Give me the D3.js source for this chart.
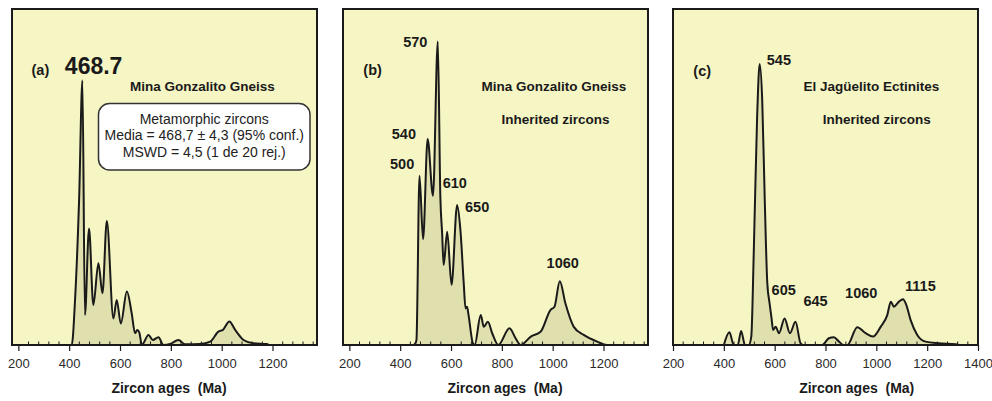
<!DOCTYPE html>
<html>
<head>
<meta charset="utf-8">
<script src="https://cdn.jsdelivr.net/npm/d3@7/dist/d3.min.js"></script>
<style>
  html, body { margin: 0; padding: 0; background: #ffffff; }
  svg { display: block; font-family: "Liberation Sans", Arial, sans-serif; }
</style>
</head>
<body>
<svg id="chart" width="992" height="401"></svg>
<script>
// ---------------- DATA ----------------
// Panel (a) Mina Gonzalito Gneiss – metamorphic zircons
const agesA   = [400, 410, 423, 439, 452, 462, 478, 495, 515, 531, 548, 574, 587, 603, 627, 646, 659, 668, 676, 686, 712, 729, 751, 771, 797, 830, 856, 915, 955, 987, 1005, 1030, 1053, 1086, 1125, 1178, 1184];
const valuesA = [0, 0, 13.4, 43.2, 78.7, 8.9, 34.7, 11.9, 24.3, 15.4, 36.9, 7.9, 13.4, 6.4, 15.9, 9.4, 3.5, 4.5, 3.7, 0, 3.0, 1.5, 2.3, 0, 0.3, 1.5, 0.2, 0.3, 1.0, 4.0, 4.5, 7.0, 4.5, 1.5, 0.5, 0.3, 0];

// Panel (b) Mina Gonzalito Gneiss – inherited zircons
const agesB   = [440, 451, 460, 464, 476, 490, 508, 529, 548, 558, 565, 571, 585, 602, 624, 637, 650, 657, 663, 669, 686, 693, 717, 729, 745, 762, 786, 830, 854, 874, 914, 953, 991, 1007, 1028, 1050, 1083, 1122, 1175, 1214, 1250];
const valuesB = [0, 0, 0.5, 1.5, 50.4, 31.5, 61.3, 44.4, 90.3, 44.1, 33.2, 23.8, 33.7, 17.9, 41.7, 34.2, 18.4, 10.9, 11.4, 8.9, 0.5, 0, 8.9, 5.4, 6.9, 3.5, 0, 5.0, 2.0, 0, 2.5, 4.0, 10.4, 11.4, 19.0, 12.4, 5.4, 3.0, 1.0, 0, 0];

// Panel (c) El Jagüelito Ectinites – inherited zircons
const agesC   = [400, 422, 439, 455, 468, 483, 498, 508, 518, 531, 541, 551, 561, 571, 580, 587, 594, 604, 617, 639, 660, 682, 702, 713, 787, 813, 833, 853, 872, 886, 925, 958, 987, 1017, 1043, 1057, 1069, 1089, 1105, 1118, 1135, 1161, 1194, 1246, 1312, 1325];
const valuesC = [0, 3.8, 0, 0, 4.2, 0, 0, 2.5, 28.3, 67.9, 83.6, 72.9, 43.2, 18.4, 12.4, 8.4, 4.5, 5.4, 3.5, 7.9, 3.5, 6.9, 0.5, 0, 0, 2.0, 2.3, 1.0, 0, 0, 5.3, 3.5, 2.5, 5.4, 8.9, 12.9, 11.4, 12.9, 13.6, 11.9, 7.4, 3.0, 1.0, 0.5, 0.2, 0];

// Tick labels
const tickLabelsAB = [200, 400, 600, 800, 1000, 1200];
const tickLabelsC  = [200, 400, 600, 800, 1000, 1200, 1400];

// Peak annotations: [text, age, value]
const peaksA = [["468.7", 383, 80.7]];
const peaksB = [["570", 412, 88.8], ["540", 367, 61.2], ["500", 360, 52.3], ["610", 567, 46.6], ["650", 655, 39.7], ["1060", 976, 22.8]];
const peaksC = [["545", 569, 83.3], ["605", 588, 14.9], ["645", 713, 11.6], ["1060", 877, 13.9], ["1115", 1113, 16.2]];

const boxLinesA = ["Metamorphic zircons", "Media = 468,7 \u00b1 4,3 (95% conf.)", "MSWD = 4,5 (1 de 20 rej.)"];
const xTitle = "Zircon ages\u00a0\u00a0(Ma)";

// ---------------- LAYOUT ----------------
const svg = d3.select("#chart");
const plotTop = 9, plotBottom = 345;
const bg = "#f6f6c4", areaFill = "#e0e0ae", ink = "#1a1a1a";

const panels = [
  { id: "a", left: 12,  right: 317, domain: [175, 1375], ages: agesA, vals: valuesA, ticks: tickLabelsAB, peaks: peaksA,
    tag: "(a)", tagDx: 19.5, tagY: 75,
    titles: [["Mina Gonzalito Gneiss", 190.5, 90.7]], axDx: 157 },
  { id: "b", left: 343, right: 648, domain: [175, 1375], ages: agesB, vals: valuesB, ticks: tickLabelsAB, peaks: peaksB,
    tag: "(b)", tagDx: 20.3, tagY: 75,
    titles: [["Mina Gonzalito Gneiss", 211, 90.7], ["Inherited zircons", 212.5, 123.5]], axDx: 162 },
  { id: "c", left: 673, right: 978, domain: [200, 1400], ages: agesC, vals: valuesC, ticks: tickLabelsC, peaks: peaksC,
    tag: "(c)", tagDx: 20.3, tagY: 76,
    titles: [["El Jag\u00fcelito Ectinites", 198.3, 90.7], ["Inherited zircons", 203.7, 124]], axDx: 183.7 }
];

const y = d3.scaleLinear().domain([0, 100]).range([plotBottom, plotTop]);

panels.forEach(p => {
  const x = d3.scaleLinear().domain(p.domain).range([p.left, p.right]);
  const g = svg.append("g");
  const data = p.ages.map((a, i) => ({ a, v: p.vals[i] }));

  g.append("rect").attr("x", p.left).attr("y", plotTop)
    .attr("width", p.right - p.left).attr("height", plotBottom - plotTop)
    .attr("fill", bg);

  const area = d3.area().x(d => x(d.a)).y0(y(0)).y1(d => y(d.v)).curve(d3.curveMonotoneX);
  const line = d3.line().x(d => x(d.a)).y(d => y(d.v)).curve(d3.curveMonotoneX);

  g.append("path").datum(data).attr("d", area).attr("fill", areaFill);
  g.append("path").datum(data).attr("d", line).attr("fill", "none")
    .attr("stroke", ink).attr("stroke-width", 2).attr("stroke-linejoin", "round");

  const minor = d3.range(Math.ceil(p.domain[0] / 40) * 40, p.domain[1], 40).filter(t => t % 200 !== 0);
  g.append("g").selectAll("line").data(minor).join("line")
    .attr("x1", d => x(d)).attr("x2", d => x(d))
    .attr("y1", plotBottom - 3.5).attr("y2", plotBottom)
    .attr("stroke", ink).attr("stroke-width", 1);

  const axis = d3.axisBottom(x).tickValues(p.ticks).tickSize(6).tickSizeOuter(0).tickFormat(d3.format("d"));
  const ax = g.append("g").attr("transform", `translate(0,${plotBottom})`).call(axis);
  ax.select(".domain").remove();
  ax.selectAll(".tick line").attr("stroke", ink).attr("stroke-width", 1.2);
  ax.selectAll(".tick text").attr("fill", "#2a2a2a").attr("font-size", 13)
    .attr("font-family", "'Liberation Sans', Arial, sans-serif").attr("dy", "0").attr("y", 23);

  g.append("rect").attr("x", p.left).attr("y", plotTop)
    .attr("width", p.right - p.left).attr("height", plotBottom - plotTop)
    .attr("fill", "none").attr("stroke", ink).attr("stroke-width", 2);

  g.append("text").attr("x", p.left + p.tagDx).attr("y", p.tagY)
    .attr("font-size", 14.5).attr("font-weight", "bold").attr("fill", ink).text(p.tag);

  p.titles.forEach(t => {
    g.append("text").attr("x", p.left + t[1]).attr("y", t[2]).attr("text-anchor", "middle")
      .attr("font-size", 13.5).attr("font-weight", "bold").attr("fill", ink).text(t[0]);
  });

  p.peaks.forEach(pk => {
    const big = p.id === "a";
    g.append("text").attr("x", x(pk[1])).attr("y", y(pk[2]))
      .attr("font-size", big ? 23 : 14.5).attr("font-weight", "bold").attr("fill", ink).text(pk[0]);
  });

  g.append("text").attr("x", p.left + p.axDx).attr("y", 393).attr("text-anchor", "middle")
    .attr("font-size", 14).attr("font-weight", "bold").attr("fill", ink).text(xTitle);

  if (p.id === "a") {
    g.append("rect").attr("x", p.left + 86.5).attr("y", 103.5).attr("width", 211.5).attr("height", 66.5)
      .attr("rx", 11).attr("ry", 11).attr("fill", "#ffffff").attr("stroke", "#333").attr("stroke-width", 1.5);
    const cx = p.left + 86.5 + 211.5 / 2;
    boxLinesA.forEach((t, i) => {
      g.append("text").attr("x", cx).attr("y", 124 + i * 16.3).attr("text-anchor", "middle")
        .attr("font-size", 14).attr("fill", "#222").text(t);
    });
  }
});
</script>
</body>
</html>
